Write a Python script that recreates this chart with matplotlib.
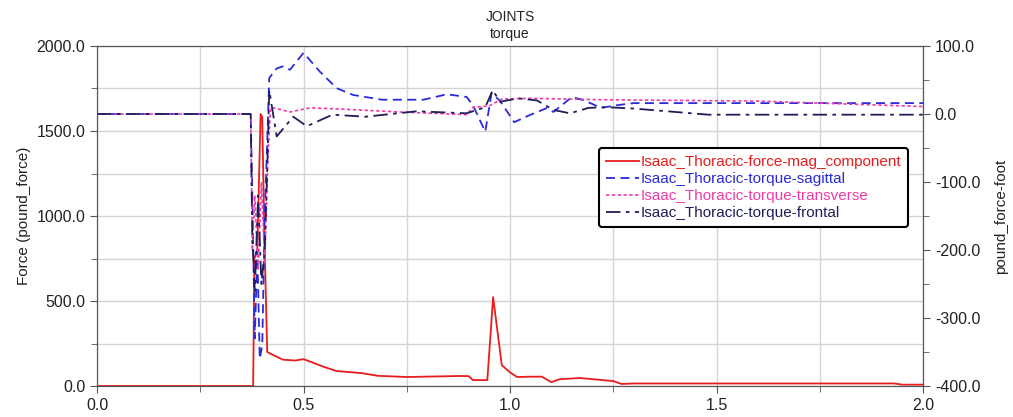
import matplotlib.pyplot as plt
from matplotlib.ticker import MultipleLocator, FormatStrFormatter

plt.rcParams['font.family'] = ['Liberation Sans', 'DejaVu Sans']

# force magnitude (left axis)
t_force = [0, 0.378, 0.381, 0.388, 0.396, 0.400, 0.405, 0.412, 0.42, 0.45, 0.48, 0.50, 0.52,
           0.55, 0.58, 0.62, 0.64, 0.68, 0.75, 0.88, 0.90, 0.91, 0.945, 0.959, 0.98, 1.0,
           1.017, 1.05, 1.077, 1.10, 1.12, 1.17, 1.25, 1.27, 1.3, 1.93, 1.95, 2.0]
force = [0, 0, 750, 800, 1600, 1580, 900, 200, 190, 155, 150, 158, 140,
         112, 88, 80, 76, 60, 53, 59, 58, 35, 35, 523, 123, 80,
         53, 55, 55, 23, 40, 47, 29, 12, 15, 15, 8, 8]

# torques (right axis)
t_sag = [0, 0.372, 0.376, 0.382, 0.388, 0.394, 0.400, 0.406, 0.412, 0.417, 0.435, 0.45,
         0.467, 0.50, 0.54, 0.58, 0.62, 0.69, 0.79, 0.847, 0.895, 0.91, 0.94, 0.955,
         0.975, 1.01, 1.05, 1.09, 1.105, 1.15, 1.18, 1.22, 1.26, 1.3, 2.0]
sagittal = [0, 0, -120, -330, -200, -360, -340, -150, -40, 53, 67, 70,
            65, 90, 62, 38, 28, 21, 21, 29, 25, 13, -26, 30,
            20, -12, -1, 9, 3, 25, 20, 9, 13, 16, 16]

t_trans = [0, 0.372, 0.376, 0.382, 0.390, 0.398, 0.406, 0.414, 0.42, 0.427, 0.467, 0.516,
           0.60, 0.73, 0.895, 0.91, 0.95, 0.98, 1.05, 1.22, 1.6, 2.0]
transverse = [0, 0, -200, -120, -230, -100, -220, -60, 9, 9, 3, 9,
              7, 3, -1, 10, 12, 22, 23, 21, 19, 11]

t_front = [0, 0.372, 0.376, 0.382, 0.390, 0.398, 0.406, 0.412, 0.417, 0.435, 0.475, 0.508,
           0.57, 0.65, 0.774, 0.895, 0.94, 0.958, 0.976, 1.02, 1.065, 1.105, 1.145, 1.19,
           1.235, 1.3, 1.48, 2.0]
frontal = [0, 0, -180, -260, -120, -250, -200, -80, 35, -33, -4, -18,
           -1, -4, 4, 1, 10, 35, 18, 23, 20, 6, 1, 9,
           10, 8, -1, -1]

fig = plt.figure(figsize=(10.13, 4.17), dpi=100)
ax = fig.add_axes([0.0958, 0.0743, 0.8154, 0.8154])
ax2 = ax.twinx()

l1, = ax.plot(t_force, force, color='#e81c1c', lw=1.3)
l2, = ax2.plot(t_sag, sagittal, color='#2a2ad8', lw=1.3, dashes=(5, 3))
l3, = ax2.plot(t_trans, transverse, color='#f03ca8', lw=1.2, dashes=(2, 1.5))
l4, = ax2.plot(t_front, frontal, color='#1e1e5a', lw=1.3, dashes=(8, 3, 2, 3))

ax.set_xlim(0, 2.0)
ax.set_ylim(0, 2000)
ax2.set_ylim(-400, 100)

ax.xaxis.set_major_locator(MultipleLocator(0.5))
ax.xaxis.set_minor_locator(MultipleLocator(0.25))
ax.yaxis.set_major_locator(MultipleLocator(500))
ax.yaxis.set_minor_locator(MultipleLocator(250))
ax2.yaxis.set_major_locator(MultipleLocator(100))
ax2.yaxis.set_minor_locator(MultipleLocator(50))
ax.xaxis.set_major_formatter(FormatStrFormatter('%.1f'))
ax.yaxis.set_major_formatter(FormatStrFormatter('%.1f'))
ax2.yaxis.set_major_formatter(FormatStrFormatter('%.1f'))

ax.grid(True, which='both', color='#d4d4d4', lw=1.0)
ax.set_axisbelow(True)

for a in (ax, ax2):
    for s in a.spines.values():
        s.set_color('#555555')
    a.tick_params(which='both', colors='#555555', labelcolor='#222222', labelsize=11.5, length=5)
    a.tick_params(which='minor', length=4)

ax.set_ylabel('Force (pound_force)', fontsize=11, color='#222222')
ax2.set_ylabel('pound_force-foot', fontsize=11, color='#222222', labelpad=10)
ax.set_title('JOINTS\ntorque', fontsize=10, color='#222222', linespacing=1.25, pad=6)

leg = ax2.legend([l1, l2, l3, l4],
                 ['Isaac_Thoracic-force-mag_component', 'Isaac_Thoracic-torque-sagittal',
                  'Isaac_Thoracic-torque-transverse', 'Isaac_Thoracic-torque-frontal'],
                 loc='upper right', bbox_to_anchor=(0.982, 0.70), borderaxespad=0,
                 fontsize=11, handlelength=2.2, handletextpad=0.1, labelspacing=0.2,
                 borderpad=0.45, framealpha=1, fancybox=True)
leg.get_frame().set_edgecolor('black')
leg.get_frame().set_linewidth(1.5)
for txt, ln in zip(leg.get_texts(), [l1, l2, l3, l4]):
    txt.set_color(ln.get_color())

plt.savefig('out.png', dpi=100)
